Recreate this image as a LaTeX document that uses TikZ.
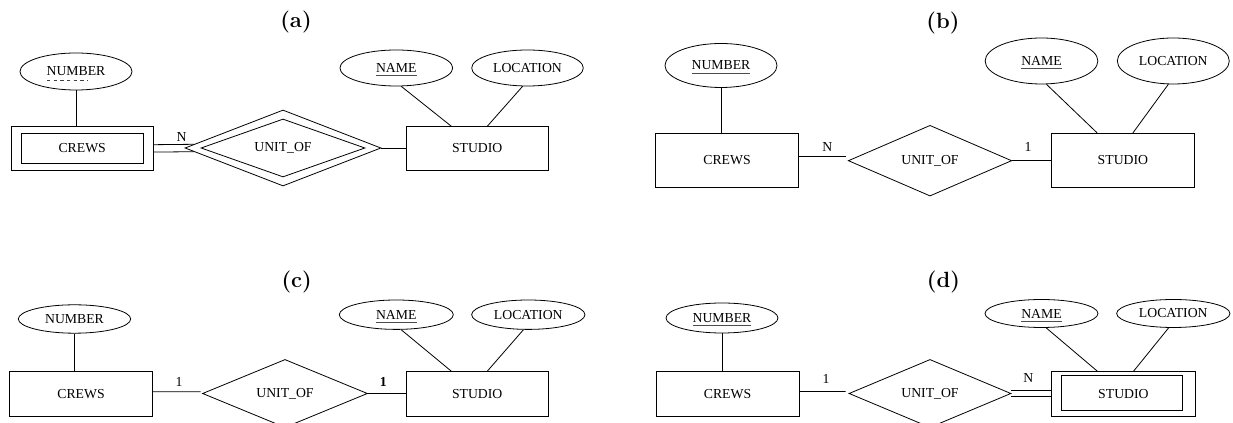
\documentclass[tikz,border=0pt]{standalone}
\usepackage{fontspec}
\newfontfamily\tnr{Liberation Serif}
\usetikzlibrary{shapes.geometric,calc}
\newcommand\labfont{\tnr\fontsize{10.3}{12}\selectfont}
\newcommand\ttlfont{\fontsize{16.5}{19}\selectfont\bfseries}
\newsavebox\ubox
\newcommand\keyu[1]{\sbox\ubox{#1}\rlap{\smash{\color{black!70}\rule[-2.6pt]{\wd\ubox}{0.5pt}}}\usebox\ubox}
\tikzset{
  sz/.style 2 args={minimum width=#1*0.75pt, minimum height=#2*0.75pt},
  ent/.style={draw, rectangle, inner sep=0pt, font=\labfont},
  inbox/.style={draw, rectangle, inner sep=0pt},
  attr/.style={draw, ellipse, inner sep=0pt, font=\labfont},
  rel/.style={draw, diamond, inner sep=0pt, font=\labfont},
  inrel/.style={draw, diamond, inner sep=0pt},
  ttl/.style={font=\ttlfont, inner sep=0pt, anchor=base},
  card/.style={font=\labfont, inner sep=0pt},
}
\begin{document}
\begin{tikzpicture}[x=0.75pt, y=-0.75pt, line width=0.6pt]
\useasboundingbox (0,0) rectangle (1233,423);

% ---------------- (a)
\node[ttl] (ta) at (296,28) {(a)};
\node[attr, sz={112}{37}] (numA) at (76,71.5) {NUMBER};
\draw[dash pattern=on 2.6pt off 2.4pt, line width=0.5pt, black!75]
  ($(numA.center)+(-29,8.5)$) -- ($(numA.center)+(12,8.5)$);
\node[ent, sz={142.3}{43.3}] (crewsA) at (82.2,148.4) {CREWS};
\node[inbox, sz={122.6}{30}] (crewsAin) at (82.2,148.4) {};
\draw (numA.south) -- (numA.south |- crewsA.north);
\node[rel, sz={196}{76}] (relA) at (283,148) {UNIT\_OF};
\node[inrel, sz={164}{58}] (relAin) at (283,148) {};
\node[ent, sz={142.3}{43.3}] (studioA) at (477.2,148.4) {STUDIO};
\node[attr, sz={112.7}{36}] (nameA) at (396.3,68) {\keyu{NAME}};
\node[attr, sz={111.6}{36}] (locA) at (527.5,68) {LOCATION};
\draw (nameA.-75) -- ($(studioA.north west)!0.32!(studioA.north east)$);
\draw (locA.-105) -- ($(studioA.north west)!0.57!(studioA.north east)$);
\draw ($(crewsA.east)+(0,-3.7)$) -- ($(relA.west)+(9.5,-3.7)$);
\draw ($(crewsA.east)+(0,3.7)$) -- ($(relA.west)+(9.5,3.7)$);
\draw (relA.east) -- (relA.east -| studioA.west);
\node[card] (nA) at (181.7,136.7) {N};

% ---------------- (b)
\node[ttl] (tb) at (943,28.5) {(b)};
\node[attr, sz={112}{44}] (numB) at (721,65.5) {\keyu{NUMBER}};
\node[ent, sz={142.6}{54}] (crewsB) at (727,160.3) {CREWS};
\draw (numB.south) -- (numB.south |- crewsB.north);
\node[rel, sz={163.4}{70.7}] (relB) at (930,160.7) {UNIT\_OF};
\node[ent, sz={142.3}{54}] (studioB) at (1122.9,160.3) {STUDIO};
\node[attr, sz={112.7}{46}] (nameB) at (1041.5,61) {\keyu{NAME}};
\node[attr, sz={112}{46}] (locB) at (1173.3,61) {LOCATION};
\draw (nameB.-78) -- ($(studioB.north west)!0.32!(studioB.north east)$);
\draw (locB.-102) -- ($(studioB.north west)!0.57!(studioB.north east)$);
\draw ($(crewsB.east)+(0,-3.6)$) -- ($(relB.west)+(-1.5,-4)$);
\draw (relB.east) -- (relB.east -| studioB.west);
\node[card] (nB) at (827.3,147.3) {N};
\node[card] (oB) at (1028,146.7) {1};

% ---------------- (c)
\node[ttl] (tc) at (296.7,288) {(c)};
\node[attr, sz={112.4}{28.4}] (numC) at (74.5,319) {NUMBER};
\node[ent, sz={143.4}{45}] (crewsC) at (81,394.2) {CREWS};
\draw (numC.south) -- (numC.south |- crewsC.north);
\node[rel, sz={165}{62}] (relC) at (285,393.5) {UNIT\_OF};
\node[ent, sz={142.3}{45}] (studioC) at (477.2,394.2) {STUDIO};
\node[attr, sz={114}{29.4}] (nameC) at (396.3,314.7) {\keyu{NAME}};
\node[attr, sz={113.3}{29.4}] (locC) at (528.3,314.7) {LOCATION};
\draw (nameC.-72) -- ($(studioC.north west)!0.32!(studioC.north east)$);
\draw (locC.-108) -- ($(studioC.north west)!0.57!(studioC.north east)$);
\draw ($(crewsC.east)+(0,-2.5)$) -- ($(relC.west)+(-1.5,-1.8)$);
\draw (relC.east) -- (relC.east -| studioC.west);
\node[card] (oC1) at (179,381.7) {1};
\node[card, font=\labfont\bfseries] (oC2) at (383.3,381.7) {1};

% ---------------- (d)
\node[ttl] (td) at (943.5,288) {(d)};
\node[attr, sz={112}{30}] (numD) at (722,318) {\keyu{NUMBER}};
\node[ent, sz={143}{45}] (crewsD) at (727.5,394.2) {CREWS};
\draw (numD.south) -- (numD.south |- crewsD.north);
\node[rel, sz={162}{62}] (relD) at (930,393.5) {UNIT\_OF};
\node[ent, sz={143.3}{45}] (studioD) at (1123.4,394.2) {STUDIO};
\node[inbox, sz={121}{35.7}] (studioDin) at (1122.2,392.9) {};
\node[attr, sz={113}{28}] (nameD) at (1041.5,313.5) {\keyu{NAME}};
\node[attr, sz={113.3}{28}] (locD) at (1173.3,313.5) {LOCATION};
\draw (nameD.-72) -- ($(studioD.north west)!0.32!(studioD.north east)$);
\draw (locD.-108) -- ($(studioD.north west)!0.57!(studioD.north east)$);
\draw ($(crewsD.east)+(0,-2.6)$) -- ($(relD.west)+(-3,-1.9)$);
\draw ($(relD.east)+(0,-3.4)$) -- ($(relD.east -| studioD.west)+(0,-3.4)$);
\draw ($(relD.east)+(0,3.4)$) -- ($(relD.east -| studioD.west)+(0,3.4)$);
\node[card] (oD) at (826,379) {1};
\node[card] (nD) at (1028.3,378.3) {N};
\end{tikzpicture}
\end{document}
